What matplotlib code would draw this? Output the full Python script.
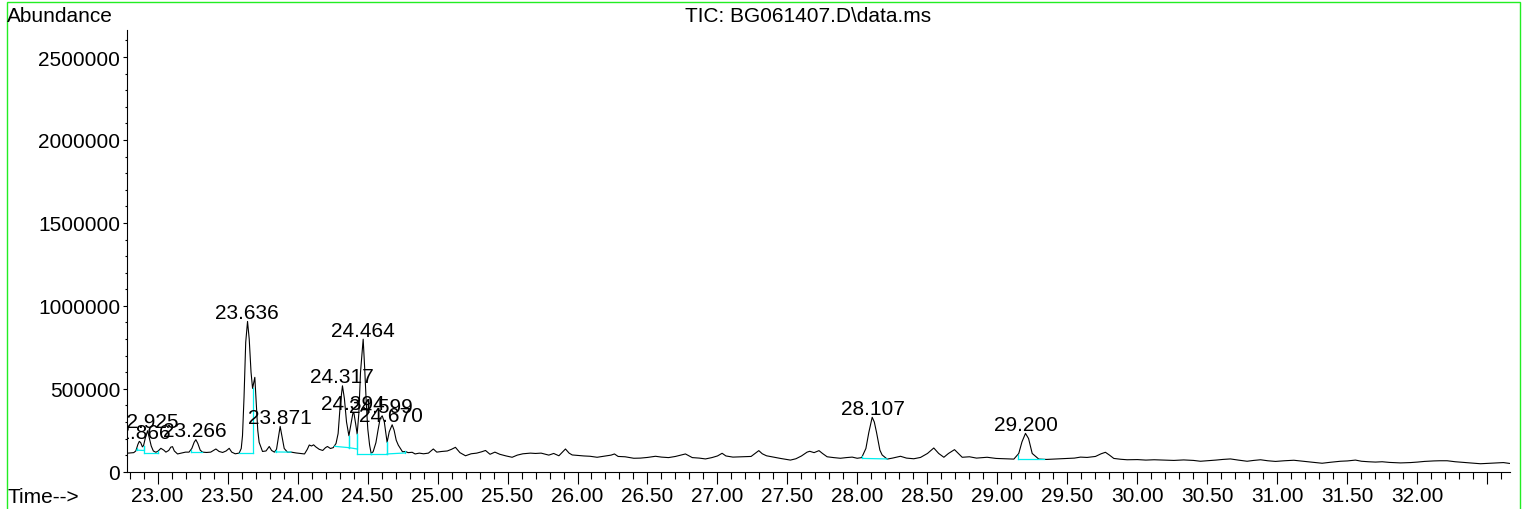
import numpy as np
import matplotlib.pyplot as plt
from matplotlib.ticker import MultipleLocator, FixedLocator
from matplotlib.patches import Rectangle

plt.rcParams['font.family'] = ['Liberation Sans', 'DejaVu Sans']

# retensjonstid (min) og abundance (x1000), lest av fra bildet
tid = [22.790, 22.830, 22.845, 22.860, 22.870, 22.880, 22.892, 22.900, 22.912, 22.929,
       22.942, 22.955, 22.970, 22.988, 23.005, 23.024, 23.045, 23.060, 23.080, 23.095,
       23.107, 23.120, 23.143, 23.170, 23.200, 23.225, 23.245, 23.262, 23.274, 23.288,
       23.305, 23.321, 23.350, 23.380, 23.417, 23.440, 23.465, 23.490, 23.512, 23.530,
       23.555, 23.583, 23.598, 23.607, 23.618, 23.630, 23.643, 23.655, 23.668, 23.679,
       23.695, 23.705, 23.716, 23.726, 23.750, 23.775, 23.798, 23.815, 23.835, 23.850,
       23.862, 23.876, 23.890, 23.905, 23.929, 23.955, 23.990, 24.020, 24.050, 24.070,
       24.084, 24.100, 24.115, 24.130, 24.155, 24.180, 24.200, 24.214, 24.235, 24.255,
       24.275, 24.290, 24.305, 24.321, 24.335, 24.350, 24.367, 24.380, 24.395, 24.402,
       24.415, 24.426, 24.438, 24.450, 24.469, 24.480, 24.492, 24.502, 24.515, 24.526,
       24.540, 24.560, 24.575, 24.590, 24.605, 24.620, 24.640, 24.655, 24.676, 24.690,
       24.705, 24.720, 24.735, 24.750, 24.770, 24.790, 24.819, 24.840, 24.870, 24.900,
       24.935, 24.970, 24.995, 25.030, 25.070, 25.100, 25.128, 25.160, 25.200, 25.240,
       25.280, 25.315, 25.343, 25.375, 25.410, 25.445, 25.490, 25.533, 25.570, 25.610,
       25.664, 25.700, 25.740, 25.795, 25.830, 25.867, 25.914, 25.940, 25.962, 26.000,
       26.045, 26.090, 26.140, 26.200, 26.240, 26.264, 26.290, 26.340, 26.402, 26.450,
       26.500, 26.557, 26.600, 26.650, 26.700, 26.771, 26.820, 26.870, 26.914, 26.960,
       27.000, 27.033, 27.060, 27.110, 27.188, 27.240, 27.295, 27.320, 27.350, 27.400,
       27.450, 27.521, 27.560, 27.600, 27.640, 27.659, 27.690, 27.725, 27.750, 27.783,
       27.830, 27.878, 27.920, 27.962, 27.998, 28.030, 28.060, 28.081, 28.105, 28.120,
       28.136, 28.160, 28.176, 28.212, 28.250, 28.307, 28.350, 28.402, 28.450, 28.500,
       28.545, 28.580, 28.617, 28.650, 28.693, 28.720, 28.748, 28.800, 28.850, 28.926,
       28.990, 29.050, 29.117, 29.152, 29.175, 29.200, 29.222, 29.248, 29.295, 29.350,
       29.402, 29.450, 29.500, 29.550, 29.593, 29.640, 29.700, 29.740, 29.771, 29.800,
       29.831, 29.880, 29.926, 30.000, 30.060, 30.119, 30.200, 30.260, 30.330, 30.400,
       30.450, 30.500, 30.560, 30.610, 30.664, 30.720, 30.783, 30.830, 30.879, 30.930,
       30.986, 31.050, 31.117, 31.180, 31.250, 31.319, 31.380, 31.450, 31.500, 31.557,
       31.600, 31.650, 31.700, 31.748, 31.800, 31.879, 31.950, 32.000, 32.050, 32.117,
       32.160, 32.212, 32.270, 32.330, 32.400, 32.450, 32.500, 32.560, 32.614, 32.657]
abund_k = [112, 115, 125, 165, 183, 175, 150, 157, 200, 247,
           200, 155, 125, 117, 125, 141, 130, 118, 128, 148,
           151, 125, 107, 112, 118, 118, 140, 178, 193, 170,
           130, 118, 116, 118, 137, 122, 116, 125, 141, 118,
           108, 112, 140, 217, 450, 780, 906, 800, 600, 502,
           569, 420, 250, 177, 122, 125, 152, 128, 118, 135,
           200, 273, 210, 140, 117, 118, 113, 110, 107, 135,
           161, 155, 162, 150, 135, 128, 145, 152, 140, 145,
           170, 230, 400, 518, 440, 300, 217, 280, 350, 358,
           290, 227, 350, 600, 799, 620, 400, 257, 160, 111,
           120, 175, 250, 320, 337, 300, 177, 240, 283, 250,
           190, 160, 140, 120, 122, 115, 117, 107, 112, 108,
           112, 137, 118, 122, 125, 135, 147, 115, 96, 108,
           112, 120, 128, 105, 118, 105, 95, 87, 100, 108,
           112, 110, 112, 100, 110, 96, 137, 112, 101, 98,
           95, 93, 87, 95, 100, 107, 92, 90, 81, 82,
           86, 93, 88, 85, 92, 107, 85, 82, 77, 85,
           95, 111, 95, 88, 90, 92, 127, 108, 96, 88,
           80, 70, 78, 95, 118, 123, 115, 127, 110, 90,
           85, 81, 85, 88, 81, 85, 140, 237, 328, 300,
           237, 130, 101, 76, 82, 93, 82, 78, 86, 110,
           143, 110, 87, 110, 133, 110, 87, 90, 82, 87,
           80, 78, 76, 110, 180, 231, 200, 110, 76, 74,
           76, 78, 80, 82, 88, 86, 92, 108, 117, 100,
           80, 75, 72, 73, 70, 72, 70, 68, 71, 68,
           63, 66, 70, 74, 77, 70, 63, 68, 72, 66,
           62, 66, 69, 63, 57, 51, 57, 63, 65, 70,
           63, 60, 58, 60, 56, 53, 55, 58, 62, 65,
           66, 66, 60, 56, 52, 48, 50, 53, 55, 50]

# integrerte topper og baseline (start/slutt, abundance x1000)
topp_navn = ["22.866", "22.925", "23.266", "23.636", "23.871", "24.317",
             "24.394", "24.464", "24.599", "24.670", "28.107", "29.200"]
bl_t0 = [22.852, 22.900, 23.238, 23.583, 23.845, 24.265, 24.367, 24.426, 24.526, 24.640, 28.035, 29.145]
bl_v0 = [130, 113, 120, 113, 119, 153, 145, 107, 107, 107, 80, 77]
bl_t1 = [22.900, 23.005, 23.321, 23.679, 23.952, 24.367, 24.426, 24.526, 24.640, 24.769, 28.212, 29.331]
bl_v1 = [128, 113, 120, 113, 118, 145, 137, 107, 107, 113, 77, 77]

x_ticks = [23.0, 23.5, 24.0, 24.5, 25.0, 25.5, 26.0, 26.5, 27.0, 27.5,
           28.0, 28.5, 29.0, 29.5, 30.0, 30.5, 31.0, 31.5, 32.0, 32.5]
x_labels = ["23.00", "23.50", "24.00", "24.50", "25.00", "25.50", "26.00", "26.50",
            "27.00", "27.50", "28.00", "28.50", "29.00", "29.50", "30.00", "30.50",
            "31.00", "31.50", "32.00", ""]
y_ticks = [0, 500000, 1000000, 1500000, 2000000, 2500000]
y_labels = ["0", "500000", "1000000", "1500000", "2000000", "2500000"]

t = np.array(tid)
v = np.array(abund_k) * 1000.0

W, H = 1526, 510
fs = 15
cyan = '#00eeee'

fig = plt.figure(figsize=(W / 100, H / 100), dpi=100)
ax = fig.add_axes([127 / W, 1 - 472.7 / H, (1510 - 127) / W, (472.7 - 30.7) / H])

ax.plot(t, v, color='black', lw=0.8)

# baseline for hver topp, med loddrette streker opp til signalet
for t0, v0, t1, v1 in zip(bl_t0, bl_v0, bl_t1, bl_v1):
    ax.plot([t0, t1], [v0 * 1000, v1 * 1000], color=cyan, lw=0.9)
    for tt, vv in ((t0, v0), (t1, v1)):
        ax.plot([tt, tt], [vv * 1000, np.interp(tt, t, v)], color=cyan, lw=0.9)

for navn in topp_navn:
    rt = float(navn)
    topp = v[np.abs(t - rt) < 0.016].max()
    ax.annotate(navn, (rt, topp), xytext=(0, 2.5), textcoords='offset points',
                ha='center', va='baseline', fontsize=fs, clip_on=True)

ax.set_xlim(22.782, 32.661)
ax.set_ylim(0, 2665000)

ax.xaxis.set_major_locator(FixedLocator(x_ticks))
ax.set_xticklabels(x_labels)
ax.xaxis.set_minor_locator(MultipleLocator(0.1))
ax.yaxis.set_major_locator(FixedLocator(y_ticks))
ax.set_yticklabels(y_labels)
ax.yaxis.set_minor_locator(MultipleLocator(100000))

ax.tick_params(axis='x', which='major', length=8.5, width=0.8, pad=2, labelsize=fs)
ax.tick_params(axis='x', which='minor', length=5, width=0.8)
ax.tick_params(axis='y', which='major', length=3, width=0.8, pad=2, labelsize=fs)
ax.tick_params(axis='y', which='minor', length=1.5, width=0.8)

for s in ('top', 'right'):
    ax.spines[s].set_visible(False)
for s in ('left', 'bottom'):
    ax.spines[s].set_linewidth(0.8)

fig.text(7 / W, 1 - 16 / H, "Abundance", fontsize=fs, ha='left', va='center')
fig.text(808 / W, 1 - 16 / H, r"TIC: BG061407.D\data.ms", fontsize=fs, ha='center', va='center')
fig.text(8 / W, 1 - 498 / H, "Time-->", fontsize=fs, ha='left', va='center')

# grønn ramme rundt
fig.add_artist(Rectangle((6.5 / W, -0.1), (1520 - 6.5) / W, 1.1 - 3.3 / H,
                         transform=fig.transFigure, fill=False,
                         edgecolor='#22ee22', lw=1))

fig.savefig('out.png', dpi=100)
